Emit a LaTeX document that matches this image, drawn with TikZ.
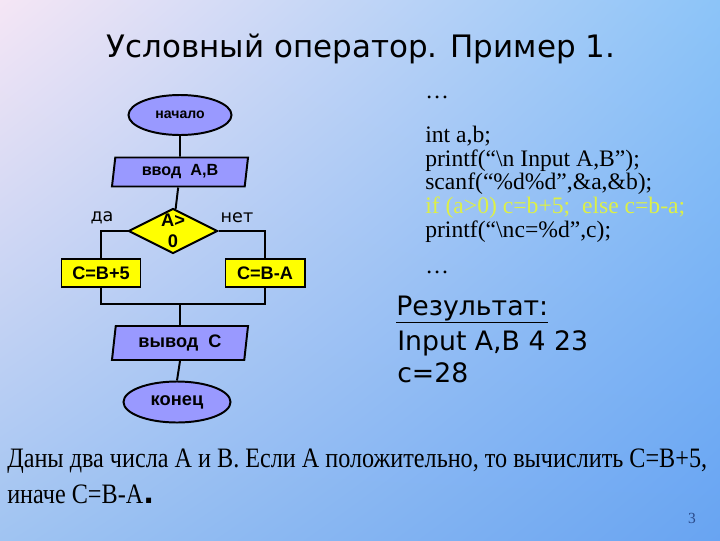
\documentclass[tikz,border=0pt]{standalone}
\usepackage{fontspec}
\setmainfont{Liberation Serif}
\setsansfont{DejaVu Sans}
\newfontfamily\arialfont{Liberation Sans}
\newfontfamily\narrowserif[FakeStretch=0.86]{Liberation Serif}
\usetikzlibrary{positioning,shapes.geometric,shadings}
\definecolor{lilac}{HTML}{9999FF}
\definecolor{lemon}{HTML}{FFFF00}
\definecolor{limecode}{HTML}{DDF046}
\definecolor{pagenum}{HTML}{2A4A8A}
\definecolor{bgul}{HTML}{F5E6F5}
\definecolor{bgur}{HTML}{8CC4F8}
\definecolor{bgll}{HTML}{A0C4F2}
\definecolor{bglr}{HTML}{68A4F2}

\tikzset{
  terminal/.style={ellipse, draw, line width=1.4pt, fill=lilac, inner sep=0pt},
  iobox/.style={trapezium, trapezium left angle=77, trapezium right angle=103,
    trapezium stretches body, draw, line width=1.4pt, fill=lilac,
    minimum width=3.4cm, inner sep=0pt},
  decision/.style={diamond, draw, line width=1.4pt, fill=lemon,
    minimum width=2.225cm, minimum height=1.125cm, inner sep=0pt},
  action/.style={rectangle, draw, line width=1.4pt, fill=lemon,
    minimum width=1.975cm, minimum height=0.7cm, inner sep=0pt,
    font=\arialfont\bfseries\fontsize{12.9}{14}\selectfont},
  flow/.style={line width=1.4pt},
  branchlbl/.style={font=\sffamily\fontsize{12.5}{14}\selectfont},
  codeline/.style={anchor=base west, inner sep=0pt,
    font=\fontsize{16.8}{17}\selectfont},
  resline/.style={anchor=base west, inner sep=0pt,
    font=\sffamily\fontsize{19}{21}\selectfont},
  taskline/.style={anchor=base west, inner sep=0pt,
    font=\narrowserif\fontsize{20}{22}\selectfont},
}

\begin{document}
\begin{tikzpicture}[x=0.025cm, y=-0.025cm]
% Background
\useasboundingbox (0,0) rectangle (720,540);
\shade[upper left=bgul, upper right=bgur, lower left=bgll, lower right=bglr]
    (0,0) rectangle (720,540);

% Title
\node[anchor=base, font=\sffamily\fontsize{22}{24}\selectfont] (title) at (361,57)
    {Условный оператор. Пример 1.};

% Flowchart
\node[terminal, minimum width=2.575cm, minimum height=1cm,
    font=\arialfont\bfseries\fontsize{10}{12}\selectfont] (start) at (180,115) {начало};
\node[iobox, minimum height=0.725cm,
    font=\arialfont\bfseries\fontsize{11.5}{13}\selectfont] (inp) at (180,172) {ввод\ \ A,B};
\node[decision] (dec) at (173,231) {};
\node[align=center, inner sep=0pt,
    font=\arialfont\bfseries\fontsize{13}{15}\selectfont] (decTxt) at (173,231) {A>\\0};
\node[action] (yes) at (101,273) {C=B+5};
\node[action] (no) at (265,273) {C=B-A};
\node[iobox, minimum height=0.85cm,
    font=\arialfont\bfseries\fontsize{12.9}{14}\selectfont] (out) at (180,343) {вывод\ \ C};
\node[terminal, minimum width=2.675cm, minimum height=1.025cm,
    font=\arialfont\bfseries\fontsize{13}{15}\selectfont] (stop) at (177,402) {конец};
\coordinate (merge) at (180,304);

\node[branchlbl] (yesLbl) at (102,218) {да};
\node[branchlbl] (noLbl) at (237,218) {нет};

\draw[flow] (start) -- (inp);
\draw[flow] (inp) -- (dec);
\draw[flow] (dec.west) -| (yes.north);
\draw[flow] (dec.east) -| (no.north);
\draw[flow] (yes.south) |- (merge) -| (no.south);
\draw[flow] (merge) -- (out.north);
\draw[flow] (out.south) -- (stop.north);

% Program text
\node[codeline] (dotsA) at (425,98) {…};
\node[codeline] (codeA) at (425,142) {int a,b;};
\node[codeline] (codeB) at (425,166) {printf(“\textbackslash n Input A,B”);};
\node[codeline] (codeC) at (425,189) {scanf(“\%d\%d”,\&a,\&b);};
\node[codeline, text=limecode] (codeD) at (425,213) {if (a>0) c=b+5;\ \ else c=b-a;};
\node[codeline] (codeE) at (425,237) {printf(“\textbackslash nc=\%d”,c);};
\node[codeline] (dotsB) at (425,273) {…};

% Result
\node[resline] (resTitle) at (396,315) {\underline{Результат:}};
\node[resline] (resA) at (397,350) {Input A,B 4 23};
\node[resline] (resB) at (397,382) {c=28};

% Task statement
\node[taskline] (taskA) at (7,467)
    {Даны два числа A и B. Если A положительно, то вычислить C=B+5,};
\node[taskline] (taskB) at (7,503) {иначе C=B-A\textsf{\bfseries .}};

\node[text=pagenum, font=\fontsize{11}{12}\selectfont] (page) at (692,518) {3};
\end{tikzpicture}
\end{document}
